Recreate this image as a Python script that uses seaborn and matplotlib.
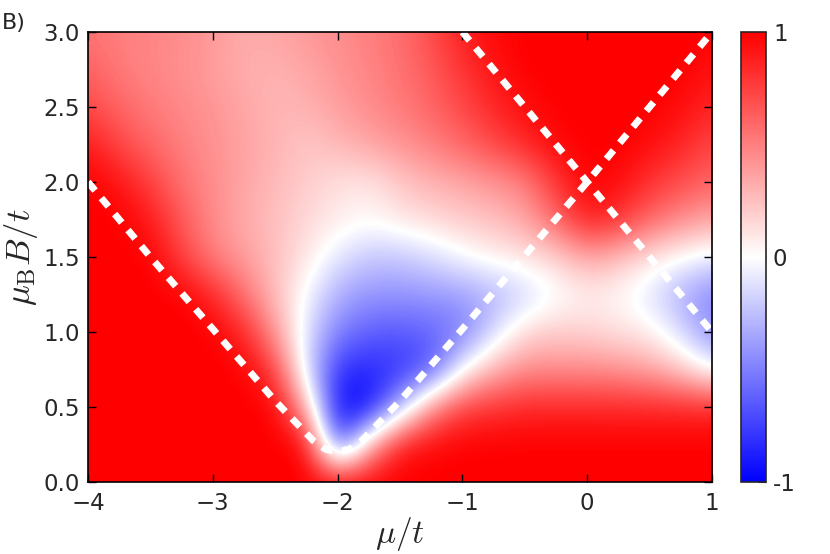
import numpy as np
import pandas as pd
import seaborn as sns
import matplotlib
matplotlib.use("Agg")
import matplotlib.pyplot as plt

# grid (mu/t across, mu_B B/t up)
mu_vals = [-4.0, -3.75, -3.5, -3.25, -3.0, -2.75, -2.5, -2.25, -2.0, -1.75, -1.5,
           -1.25, -1.0, -0.75, -0.5, -0.25, 0.0, 0.25, 0.5, 0.75, 1.0]
b_vals = [0.0, 0.25, 0.5, 0.75, 1.0, 1.25, 1.5, 1.75, 2.0, 2.25, 2.5, 2.75, 3.0]

# colour value in [-1, 1], one row per B value (bottom to top)
field = [
    [1] * 21,
    [1, 1, 1, 1, 1, 1, 1, 1, -0.8, 0.3, 0.92, 0.97, 1, 1, 1, 1, 1, 1, 1, 1, 1],
    [1, 1, 1, 1, 1, 1, 1, 0.3, -1.0, -0.97, -0.3, 0.45, 0.75, 0.8, 0.85, 0.85, 0.85, 0.85, 0.85, 0.85, 0.85],
    [1, 1, 1, 1, 1, 1, 0.75, -0.15, -0.8, -0.85, -0.8, -0.68, 0.0, 0.3, 0.45, 0.45, 0.45, 0.42, 0.35, 0.2, -0.05],
    [1, 1, 1, 1, 1, 0.85, 0.4, -0.12, -0.5, -0.62, -0.65, -0.6, -0.52, -0.15, 0.15, 0.2, 0.17, 0.12, 0.06, -0.15, -0.45],
    [1, 1, 1, 1, 0.85, 0.55, 0.25, -0.03, -0.32, -0.42, -0.42, -0.4, -0.38, -0.3, -0.18, -0.03, 0.06, 0.02, -0.12, -0.32, -0.48],
    [1, 1, 1, 0.75, 0.5, 0.38, 0.25, 0.1, -0.1, -0.22, -0.22, -0.14, -0.02, 0.06, 0.1, 0.18, 0.35, 0.25, 0.1, 0.0, -0.08],
    [1, 1, 0.9, 0.65, 0.45, 0.33, 0.25, 0.15, 0.08, 0.02, 0.1, 0.15, 0.2, 0.25, 0.35, 0.6, 0.9, 0.8, 0.6, 0.45, 0.35],
    [1, 0.92, 0.75, 0.55, 0.45, 0.35, 0.27, 0.2, 0.12, 0.1, 0.22, 0.3, 0.35, 0.42, 0.5, 0.8, 1, 0.95, 0.8, 0.7, 0.6],
    [0.9, 0.72, 0.6, 0.5, 0.43, 0.36, 0.3, 0.22, 0.28, 0.35, 0.42, 0.5, 0.6, 0.72, 0.85, 0.97, 1, 1, 0.95, 0.85, 0.72],
    [0.72, 0.6, 0.52, 0.46, 0.42, 0.35, 0.28, 0.3, 0.38, 0.45, 0.52, 0.6, 0.72, 0.85, 0.95, 1, 1, 1, 1, 0.95, 0.85],
    [0.62, 0.52, 0.47, 0.44, 0.38, 0.32, 0.3, 0.35, 0.42, 0.48, 0.55, 0.65, 0.8, 0.92, 1, 1, 1, 1, 1, 1, 0.92],
    [0.55, 0.5, 0.48, 0.45, 0.4, 0.33, 0.35, 0.4, 0.45, 0.5, 0.57, 0.7, 0.88, 0.97, 1, 1, 1, 1, 1, 1, 1],
]

# dashed white lines
line_a_mu = [-4.0, -3.5, -3.0, -2.5, -2.2, -2.1, -2.0, -1.9, -1.8, -1.5, -1.0, -0.5, 0.0, 0.5, 1.0]
line_a_b = [2.0, 1.5, 1.02, 0.54, 0.28, 0.22, 0.2, 0.22, 0.28, 0.54, 1.02, 1.51, 2.0, 2.5, 3.0]
line_b_mu = [-1.0, 1.0]
line_b_b = [3.0, 1.0]

sns.set_style("ticks")
plt.rcParams["font.family"] = ["DejaVu Sans"]
plt.rcParams["mathtext.fontset"] = "cm"
plt.rcParams["xtick.direction"] = "in"
plt.rcParams["ytick.direction"] = "in"

fig = plt.figure(figsize=(8.3, 5.54), dpi=100)
ax = fig.add_axes([88 / 830, 1 - 482 / 554, 624 / 830, 450 / 554])
cax = fig.add_axes([741 / 830, 1 - 482 / 554, 25 / 830, 450 / 554])

half_mu = (mu_vals[1] - mu_vals[0]) / 2
half_b = (b_vals[1] - b_vals[0]) / 2
im = ax.imshow(np.array(field), origin="lower", aspect="auto", cmap="bwr",
               vmin=-1, vmax=1, interpolation="bicubic", interpolation_stage="data",
               extent=[mu_vals[0] - half_mu, mu_vals[-1] + half_mu,
                       b_vals[0] - half_b, b_vals[-1] + half_b])

lines = pd.DataFrame({"mu": line_a_mu, "b": line_a_b})
sns.lineplot(data=lines, x="mu", y="b", sort=False, ax=ax, color="white",
             lw=5, linestyle=(0, (1.6, 1.4)))
sns.lineplot(x=line_b_mu, y=line_b_b, sort=False, ax=ax, color="white",
             lw=5, linestyle=(0, (1.6, 1.4)))

ax.set_xlim(-4, 1)
ax.set_ylim(0, 3)
ax.set_xticks([-4, -3, -2, -1, 0, 1])
ax.set_yticks([0.0, 0.5, 1.0, 1.5, 2.0, 2.5, 3.0])
ax.set_yticklabels(["%.1f" % v for v in [0.0, 0.5, 1.0, 1.5, 2.0, 2.5, 3.0]])
ax.tick_params(labelsize=16.5, length=6, width=1, top=True, right=True, color="black")
ax.tick_params(axis="x", pad=7)
ax.tick_params(axis="y", pad=6)
for s in ax.spines.values():
    s.set_linewidth(1.2)
    s.set_color("black")
    s.set_visible(True)
ax.set_xlabel(r"$\mu/t$", fontsize=24, labelpad=0)
ax.set_ylabel(r"$\mu_{\rm B}B/t$", fontsize=25, labelpad=2)

cb = fig.colorbar(im, cax=cax, ticks=[-1, 0, 1])
cb.ax.set_yticklabels(["-1", "0", "1"])
cb.ax.tick_params(labelsize=16.5, direction="in", length=6, pad=5)
cb.outline.set_linewidth(1.2)

fig.text(0.002, 0.958, "B)", fontsize=16, va="center")

fig.savefig("out.png", dpi=100)
